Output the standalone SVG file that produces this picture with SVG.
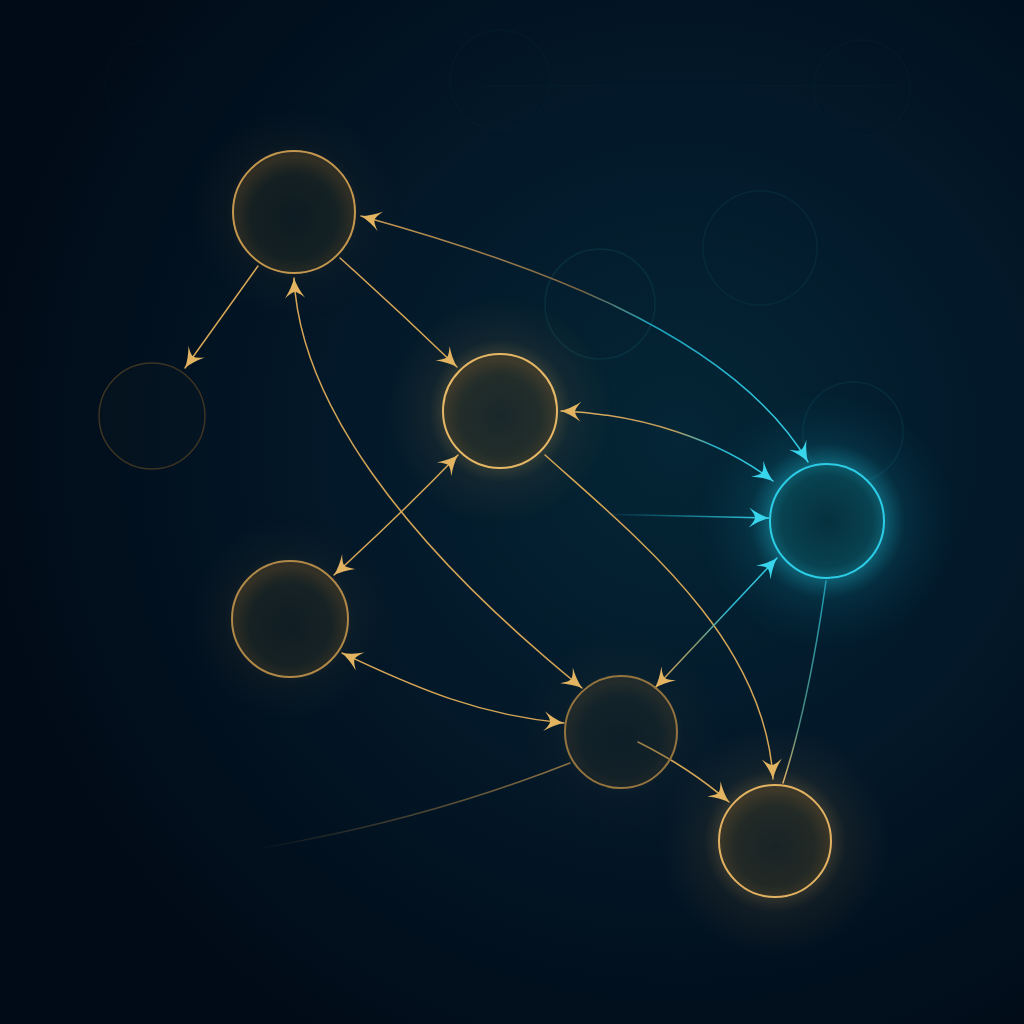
<svg xmlns="http://www.w3.org/2000/svg" width="1024" height="1024" viewBox="0 0 1024 1024">
<style>
.edge{fill:none;stroke-width:1.5;stroke-linecap:round}
.gold{stroke:#d6a656}
.ring{fill:url(#nodeFill);stroke-width:2}
.ghost{fill:none;stroke-width:1.5}
</style>
<defs>
<radialGradient id="bg" cx="680" cy="440" r="700" gradientUnits="userSpaceOnUse">
<stop offset="0" stop-color="#042636"/>
<stop offset="0.45" stop-color="#03192a"/>
<stop offset="1" stop-color="#010b17"/>
</radialGradient>
<radialGradient id="nodeFill" cx="0.5" cy="0.55" r="0.5">
<stop offset="0" stop-color="#061620" stop-opacity="0.5"/>
<stop offset="0.7" stop-color="#14201e" stop-opacity="0.45"/>
<stop offset="1" stop-color="#4a3c24" stop-opacity="0.55"/>
</radialGradient>
<radialGradient id="cyanFill" cx="0.5" cy="0.5" r="0.5">
<stop offset="0" stop-color="#06303e"/>
<stop offset="0.8" stop-color="#084250"/>
<stop offset="1" stop-color="#0d5a6a"/>
</radialGradient>
<radialGradient id="haloGold" cx="0.5" cy="0.5" r="0.5">
<stop offset="0.5" stop-color="#e0a850" stop-opacity="0.3"/>
<stop offset="0.62" stop-color="#c08a40" stop-opacity="0.12"/>
<stop offset="1" stop-color="#c08a40" stop-opacity="0"/>
</radialGradient>
<radialGradient id="haloCyan" cx="0.5" cy="0.5" r="0.5">
<stop offset="0.45" stop-color="#20b8d0" stop-opacity="0.4"/>
<stop offset="0.6" stop-color="#1090a8" stop-opacity="0.15"/>
<stop offset="1" stop-color="#0a6070" stop-opacity="0"/>
</radialGradient>
<linearGradient id="gAG" gradientUnits="userSpaceOnUse" x1="361" y1="216" x2="808" y2="462">
<stop offset="0" stop-color="#c99a52"/>
<stop offset="0.45" stop-color="#7a6445"/>
<stop offset="0.6" stop-color="#1ea0b8"/>
<stop offset="1" stop-color="#35d0e8"/>
</linearGradient>
<linearGradient id="gBG" gradientUnits="userSpaceOnUse" x1="562" y1="410" x2="772" y2="480">
<stop offset="0" stop-color="#e0b060"/>
<stop offset="0.5" stop-color="#c09a58"/>
<stop offset="0.7" stop-color="#28b0c8"/>
<stop offset="1" stop-color="#35d0e8"/>
</linearGradient>
<linearGradient id="gEG" gradientUnits="userSpaceOnUse" x1="655" y1="688" x2="777" y2="558">
<stop offset="0" stop-color="#d0a050"/>
<stop offset="0.35" stop-color="#8a9a70"/>
<stop offset="0.6" stop-color="#2ab8d0"/>
<stop offset="1" stop-color="#35d0e8"/>
</linearGradient>
<linearGradient id="gGF" gradientUnits="userSpaceOnUse" x1="826" y1="581" x2="783" y2="783">
<stop offset="0" stop-color="#1e9cb4"/>
<stop offset="0.7" stop-color="#4a8a80"/>
<stop offset="1" stop-color="#e0b060"/>
</linearGradient>
<linearGradient id="gH" gradientUnits="userSpaceOnUse" x1="600" y1="514" x2="768" y2="518">
<stop offset="0" stop-color="#1ea8c0" stop-opacity="0"/>
<stop offset="0.5" stop-color="#1ea8c0" stop-opacity="0.6"/>
<stop offset="1" stop-color="#35d0e8"/>
</linearGradient>
<linearGradient id="gFade" gradientUnits="userSpaceOnUse" x1="570" y1="762" x2="250" y2="850">
<stop offset="0" stop-color="#b08848" stop-opacity="0.8"/>
<stop offset="1" stop-color="#b08848" stop-opacity="0"/>
</linearGradient>
<marker id="ag" viewBox="-24 -12 26 24" markerWidth="26" markerHeight="24" refX="0" refY="0" markerUnits="userSpaceOnUse" orient="auto-start-reverse">
<path d="M0,0 Q-10,-3 -20,-10 Q-14,-3 -14,0 Q-14,3 -20,10 Q-10,3 0,0 Z" fill="#e2b462"/>
</marker>
<marker id="ac" viewBox="-24 -12 26 24" markerWidth="26" markerHeight="24" refX="0" refY="0" markerUnits="userSpaceOnUse" orient="auto-start-reverse">
<path d="M0,0 Q-10,-3 -20,-10 Q-14,-3 -14,0 Q-14,3 -20,10 Q-10,3 0,0 Z" fill="#38d4ec"/>
</marker>
</defs>

<rect width="1024" height="1024" fill="url(#bg)"/>

<g id="background-ghosts" opacity="0.35">
<circle cx="500" cy="80" r="50" class="ghost" stroke="#0c3444" opacity="0.5"/>
<circle cx="862" cy="88" r="48" class="ghost" stroke="#0c3444" opacity="0.5"/>
<line x1="480" y1="86" x2="900" y2="86" stroke="#0c3444" stroke-width="1.5" opacity="0.5"/>
<circle cx="150" cy="85" r="45" class="ghost" stroke="#0a2a3a" opacity="0.4"/>
</g>

<g id="ghost-1"><circle cx="600" cy="304" r="55" class="ghost" stroke="#124858" opacity="0.4"/></g>
<g id="ghost-2"><circle cx="760" cy="248" r="57" class="ghost" stroke="#0e4050" opacity="0.35"/></g>
<g id="ghost-3"><circle cx="853" cy="432" r="50" class="ghost" stroke="#0e4656" opacity="0.35"/></g>

<g id="halos">
<circle cx="294" cy="212" r="110" fill="url(#haloGold)" opacity="0.3"/>
<circle cx="500" cy="411" r="115" fill="url(#haloGold)" opacity="0.65"/>
<circle cx="290" cy="619" r="105" fill="url(#haloGold)" opacity="0.35"/>
<circle cx="621" cy="732" r="100" fill="url(#haloGold)" opacity="0.22"/>
<circle cx="775" cy="841" r="115" fill="url(#haloGold)" opacity="0.65"/>
<circle cx="827" cy="521" r="130" fill="url(#haloCyan)"/>
</g>

<g id="connectors">
<path class="edge gold" d="M258,266 Q225,312 185,368" marker-end="url(#ag)" stroke="#b88c4c"/>
<path class="edge gold" d="M340,258 Q400,312 457,367" marker-end="url(#ag)"/>
<path class="edge gold" d="M294,278 C300,400 400,540 582,688" marker-start="url(#ag)" marker-end="url(#ag)" stroke="#c49a55"/>
<path class="edge" d="M361,216 C520,260 730,330 808,462" stroke="url(#gAG)" marker-start="url(#ag)" marker-end="url(#ac)"/>
<path class="edge" d="M561,411 C640,414 720,440 773,481" stroke="url(#gBG)" marker-start="url(#ag)" marker-end="url(#ac)"/>
<path class="edge gold" d="M458,455 Q400,515 334,575" marker-start="url(#ag)" marker-end="url(#ag)"/>
<path class="edge gold" d="M545,455 C640,540 765,640 773,779" marker-end="url(#ag)"/>
<path class="edge gold" d="M342,653 C420,690 480,715 564,723" marker-start="url(#ag)" marker-end="url(#ag)"/>
<path class="edge" d="M655,688 L777,558" stroke="url(#gEG)" marker-start="url(#ag)" marker-end="url(#ac)"/>
<path class="edge gold" d="M638,742 Q690,768 729,802" marker-end="url(#ag)"/>
<path class="edge" d="M826,581 C815,660 800,730 783,783" stroke="url(#gGF)"/>
<path class="edge" d="M600,514 L769,518" stroke="url(#gH)" marker-end="url(#ac)"/>
<path class="edge" d="M570,763 Q420,822 250,850" stroke="url(#gFade)"/>
</g>

<g id="node-a"><circle cx="294" cy="212" r="61" class="ring" stroke="#c4974e"/></g>
<g id="node-b"><circle cx="500" cy="411" r="57" class="ring" stroke="#e6b866"/></g>
<g id="node-c"><circle cx="152" cy="416" r="53" fill="#0a1a20" fill-opacity="0.3" stroke="#3e3424" stroke-width="1.5"/></g>
<g id="node-d"><circle cx="290" cy="619" r="58" class="ring" stroke="#b08848"/></g>
<g id="node-e"><circle cx="621" cy="732" r="56" class="ring" stroke="#94743f" style="fill-opacity:0.6"/></g>
<g id="node-f"><circle cx="775" cy="841" r="56" class="ring" stroke="#e2b262"/></g>
<g id="node-g"><circle cx="827" cy="521" r="57" fill="url(#cyanFill)" stroke="#2ccde6" stroke-width="2"/></g>
</svg>
